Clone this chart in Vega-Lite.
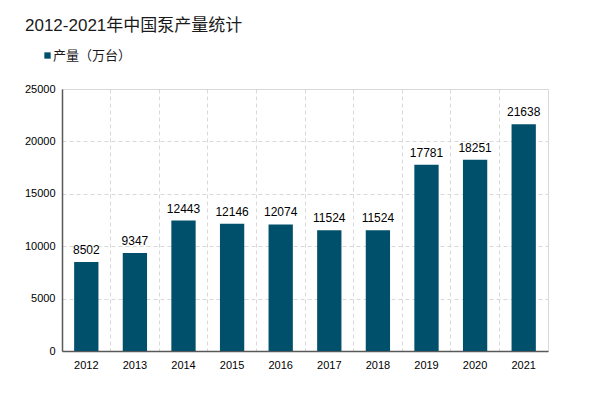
{
  "$schema": "https://vega.github.io/schema/vega-lite/v6.json",
  "autosize": "none",
  "width": 486,
  "height": 262,
  "padding": {"left": 62, "top": 89, "right": 52, "bottom": 42},
  "background": "white",
  "title": {
    "text": "2012-2021年中国泵产量统计",
    "anchor": "start",
    "frame": "group",
    "dx": -37,
    "offset": 14,
    "fontSize": 17,
    "fontWeight": "normal",
    "font": "Liberation Sans, Noto Sans CJK SC",
    "color": "#1a1a1a"
  },
  "data": {
    "values": [
      {"year": "2012", "value": 8502},
      {"year": "2013", "value": 9347},
      {"year": "2014", "value": 12443},
      {"year": "2015", "value": 12146},
      {"year": "2016", "value": 12074},
      {"year": "2017", "value": 11524},
      {"year": "2018", "value": 11524},
      {"year": "2019", "value": 17781},
      {"year": "2020", "value": 18251},
      {"year": "2021", "value": 21638}
    ]
  },
  "encoding": {
    "x": {
      "field": "year",
      "type": "nominal",
      "title": null,
      "scale": {"paddingInner": 0.5, "paddingOuter": 0.25},
      "axis": {
        "labelAngle": 0,
        "bandPosition": -0.5,
        "ticks": false,
        "grid": true,
        "gridDash": [4, 3],
        "gridColor": "#d9d9d9",
        "domainColor": "#595959",
        "domainWidth": 1.5,
        "labelFontSize": 11,
        "labelColor": "#000000",
        "labelPadding": 8,
        "labelFont": "Liberation Sans"
      }
    },
    "y": {
      "field": "value",
      "type": "quantitative",
      "title": null,
      "scale": {"domain": [0, 25000]},
      "axis": {
        "values": [0, 5000, 10000, 15000, 20000, 25000],
        "format": "d",
        "ticks": false,
        "grid": true,
        "gridDash": [4, 3],
        "gridColor": "#d9d9d9",
        "domainColor": "#595959",
        "domainWidth": 1.5,
        "labelFontSize": 11,
        "labelColor": "#000000",
        "labelPadding": 7,
        "labelFont": "Liberation Sans"
      }
    }
  },
  "layer": [
    {
      "mark": {"type": "bar", "color": "#00506B"},
      "encoding": {
        "color": {
          "datum": "产量（万台）",
          "type": "nominal",
          "scale": {"range": ["#00506B"]},
          "legend": {
            "title": null,
            "orient": "none",
            "legendX": -21,
            "legendY": -40,
            "symbolType": "square",
            "symbolSize": 40,
            "symbolStrokeWidth": 0,
            "labelFontSize": 13,
            "labelFont": "Noto Sans CJK SC",
            "labelColor": "#1a1a1a",
            "labelOffset": -1
          }
        }
      }
    },
    {
      "mark": {"type": "text", "dy": -12, "fontSize": 12, "font": "Liberation Sans", "color": "#000000"},
      "encoding": {"text": {"field": "value", "type": "quantitative", "format": "d"}}
    }
  ],
  "config": {
    "view": {"stroke": "#d9d9d9", "strokeWidth": 1}
  }
}
